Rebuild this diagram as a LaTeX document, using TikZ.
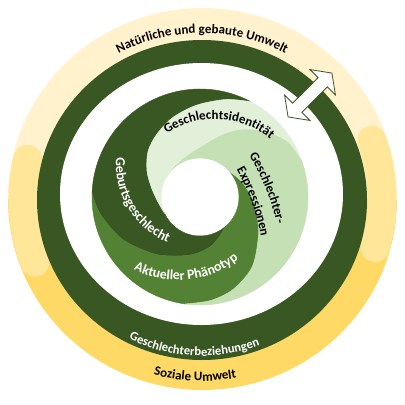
\documentclass[tikz,border=0pt]{standalone}
\usepackage{fontspec}
\setmainfont{Carlito}
\usetikzlibrary{decorations.text}
\definecolor{dkgreen}{HTML}{385723}
\definecolor{mdgreen}{HTML}{548235}
\definecolor{ltgreen}{HTML}{C5E0B4}
\definecolor{xlgreen}{HTML}{E2F0D9}
\definecolor{cream}{HTML}{FFF2CC}
\definecolor{ylmid}{HTML}{FFE699}
\definecolor{ylbot}{HTML}{FFD966}
\tikzset{
  lbl/.style={decorate, decoration={text along path, text align=center,
     text={|\bfseries\fontsize{13}{15}\selectfont|#1}}},
  lblw/.style={decorate, decoration={text along path, text align=center, text color=white,
     text={|\bfseries\fontsize{13.8}{15}\selectfont|#1}}},
  lblr/.style={decorate, decoration={text along path, text align=center, text color=white,
     text={|\bfseries\fontsize{12.6}{15}\selectfont|#1}}},
  arm/.style={fill=#1, draw=#1, line width=0.4pt, line join=round}
}
\newcommand{\BoneF}{(62:108) (75:101) (92:92) (109:84) (125:76) (139:69) (154:59) (170:49) (188:42) (205:39)}
\newcommand{\BoneR}{(205:39) (188:42) (170:49) (154:59) (139:69) (125:76) (109:84) (92:92) (75:101) (62:108)}
\newcommand{\BtwoF}{(178:108) (190:101) (209:88) (233:72) (260:59) (281:51) (296:44) (310:39)}
\newcommand{\BtwoR}{(310:39) (296:44) (281:51) (260:59) (233:72) (209:88) (190:101) (178:108)}
\newcommand{\BthreeF}{(262:108) (276:104) (290:98) (307:87) (328:69) (350:56) (372:47) (388:42) (400:39)}
\newcommand{\BthreeR}{(400:39) (388:42) (372:47) (350:56) (328:69) (307:87) (290:98) (276:104) (262:108)}
\newcommand{\BfourF}{(380:108) (392:104) (405:93) (418:80) (430:67) (450:50) (470:43) (490:40) (510:39)}
\newcommand{\BfourR}{(150:39) (130:40) (110:43) (90:50) (70:67) (58:80) (45:93) (32:104) (20:108)}
\begin{document}
\begin{tikzpicture}[x=1pt,y=1pt]
\fill[white] (0,0) rectangle (405,-405);
\useasboundingbox (0,0) rectangle (405,-405);

% outer environment ring
\begin{scope}
  \clip (202.5,-199) ellipse [x radius=194.5, y radius=191];
  \fill[cream] (0,0) rectangle (405,-199);
  \fill[ylbot] (0,-199) rectangle (405,-405);
  \draw[ylmid, line width=29, line cap=round]
    ([shift={(202.5,-199)}]167:179.5 and 176) arc[start angle=167, end angle=201, x radius=179.5, y radius=176];
  \draw[ylmid, line width=29, line cap=round]
    ([shift={(202.5,-199)}]-16:179.5 and 176) arc[start angle=-16, end angle=19.5, x radius=179.5, y radius=176];
\end{scope}

% dark relations ring
\fill[dkgreen] (202,-200) ellipse [x radius=165, y radius=160];
\fill[white] (201.5,-194) ellipse [x radius=141.5, y radius=131];

% spiral
\begin{scope}[shift={(200,-197)}]
  \path[arm=dkgreen] (62:108) arc[start angle=62, end angle=178, radius=108]
     -- plot[smooth] coordinates {\BtwoF} arc[start angle=310, end angle=205, radius=39]
     -- plot[smooth] coordinates {\BoneR} -- cycle;
  \path[arm=mdgreen] (178:108) arc[start angle=178, end angle=262, radius=108]
     -- plot[smooth] coordinates {\BthreeF} arc[start angle=400, end angle=310, radius=39]
     -- plot[smooth] coordinates {\BtwoR} -- cycle;
  \path[arm=ltgreen] (262:108) arc[start angle=262, end angle=380, radius=108]
     -- plot[smooth] coordinates {\BfourF} arc[start angle=510, end angle=400, radius=39]
     -- plot[smooth] coordinates {\BthreeR} -- cycle;
  \path[arm=xlgreen] (20:108) arc[start angle=20, end angle=62, radius=108]
     -- plot[smooth] coordinates {\BoneF} arc[start angle=205, end angle=150, radius=39]
     -- plot[smooth] coordinates {\BfourR} -- cycle;
\end{scope}

% double arrow
\begin{scope}[shift={(310,-95)}, rotate=45]
  \filldraw[fill=white, draw=dkgreen, line width=0.8pt, line join=miter]
    (31,0) -- (18,18) -- (18,6.5) -- (-18,6.5) -- (-18,18) -- (-31,0)
    -- (-18,-18) -- (-18,-6.5) -- (18,-6.5) -- (18,-18) -- cycle;
\end{scope}

% ring texts
\path[lbl={Natürliche und gebaute Umwelt}]
  ([shift={(202,-199)}]130:173 and 166) arc[start angle=130, end angle=50, x radius=173, y radius=166];
\path[lbl={Soziale Umwelt}]
  ([shift={(202,-199)}]247.8:184 and 182) arc[start angle=247.8, end angle=287.8, x radius=184, y radius=182];
\path[lblr={Geschlechterbeziehungen}]
  ([shift={(202,-200)}]237:160 and 156) arc[start angle=237, end angle=297, x radius=160, y radius=156];

% spiral texts
\path[lbl={Geschlechtsidentität}]
  ([shift={(215,-205)}]130:86) arc[start angle=130, end angle=44, radius=86];
\path[lblw={Geburtsgeschlecht}]
  ([shift={(200,-165)}]165:84) arc[start angle=165, end angle=257, radius=84];
\path[lblw={Aktueller Phänotyp}]
  ([shift={(178,-180)}]240:100) arc[start angle=240, end angle=311, radius=100];
\path[lbl={Geschlechter-}]
  ([shift={(60,-272)}]34:222) arc[start angle=34, end angle=10, radius=222];
\path[lbl={Expressionen}]
  ([shift={(60,-272)}]32:204) arc[start angle=32, end angle=8, radius=204];
\end{tikzpicture}
\end{document}
